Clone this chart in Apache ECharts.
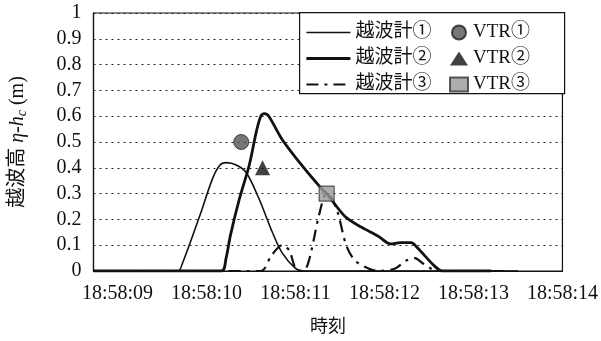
<!DOCTYPE html>
<html>
<head>
<meta charset="utf-8">
<script src="https://cdn.jsdelivr.net/npm/echarts@6/dist/echarts.min.js"></script>
<style>html,body{margin:0;padding:0;background:#fff}#c{width:601px;height:341px}</style>
</head>
<body>
<div id="c"></div>
<script>
// Time in seconds after 18:58:09
var tickLabels = ['18:58:09','18:58:10','18:58:11','18:58:12','18:58:13','18:58:14'];
var seriesNames = ['越波計①','越波計②','越波計③','VTR①','VTR②','VTR③'];

var gauge1 = [[-0.27,0],[0.3,0],[0.68,0],[0.73,0.03],[0.92,0.21],[1.07,0.36],[1.15,0.41],[1.22,0.42],[1.34,0.41],[1.45,0.38],[1.59,0.28],[1.74,0.15],[1.85,0.07],[2.0,0.01],[2.09,0],[3.0,0],[4.0,0],[4.5,0]];
var gauge2 = [[-0.27,0],[0.5,0],[1.17,0],[1.22,0.05],[1.27,0.14],[1.37,0.28],[1.48,0.41],[1.56,0.54],[1.61,0.60],[1.65,0.61],[1.70,0.60],[1.85,0.51],[2.07,0.41],[2.29,0.32],[2.35,0.30],[2.56,0.21],[2.74,0.17],[2.93,0.135],[3.07,0.105],[3.18,0.11],[3.30,0.11],[3.37,0.09],[3.56,0.02],[3.65,0],[4.2,0]];
var gauge3 = [[-0.27,0],[1.0,0],[1.61,0],[1.73,0.06],[1.85,0.10],[1.93,0.08],[2.0,0.01],[2.07,0],[2.12,0.01],[2.18,0.08],[2.26,0.21],[2.35,0.30],[2.41,0.28],[2.48,0.22],[2.57,0.10],[2.67,0.04],[2.82,0.01],[2.93,0],[3.12,0.01],[3.24,0.04],[3.34,0.05],[3.43,0.03],[3.52,0.01],[3.6,0],[4.4,0]];
var vtr1 = [[1.39,0.50]];
var vtr2 = [[1.63,0.40]];
var vtr3 = [[2.35,0.30]];

var lineW = [1.6, 2.8, 2.2];
var serif = "'Liberation Serif','Noto Sans CJK JP',serif";
var chart = echarts.init(document.getElementById('c'));
chart.setOption({
  animation: false,
  backgroundColor: '#fff',
  textStyle: {fontFamily: serif, color: '#111'},
  grid: {left: 93, right: 36, top: 13, bottom: 69, show: true, borderColor: '#111', borderWidth: 1.2},
  xAxis: {
    type: 'value', min: -0.27, max: 5,
    axisLine: {show: true, onZero: false, lineStyle: {color: '#111', width: 1.2}},
    axisTick: {show: false},
    splitLine: {show: false},
    axisLabel: {
      customValues: [0,1,2,3,4,5],
      fontFamily: serif, fontSize: 20, color: '#111', margin: 13,
      formatter: function (v) { var i = Math.round(v); return Math.abs(v - i) < 1e-6 && i >= 0 && i < tickLabels.length ? tickLabels[i] : ''; }
    },
    name: '時刻', nameLocation: 'middle', nameGap: 47,
    nameTextStyle: {fontFamily: serif, fontSize: 18, color: '#111'}
  },
  yAxis: {
    type: 'value', min: 0, max: 1, interval: 0.1,
    axisLine: {show: true, onZero: false, lineStyle: {color: '#111', width: 1.2}},
    axisTick: {show: false},
    splitLine: {show: true, lineStyle: {color: '#222', type: [2, 4], width: 1.2}},
    axisLabel: {fontFamily: serif, fontSize: 20, color: '#111', margin: 12},
    name: '{a|越波高 }{i|η-h}{s|c}{a| (m)}', nameLocation: 'middle', nameGap: 64, nameRotate: 90,
    nameTextStyle: {
      rich: {
        a: {fontFamily: serif, fontSize: 20, color: '#111'},
        i: {fontFamily: serif, fontSize: 20, fontStyle: 'italic', color: '#111'},
        s: {fontFamily: serif, fontSize: 14, fontStyle: 'italic', color: '#111', padding: [9, 0, 0, 0]}
      }
    }
  },
  graphic: [{
    type: 'rect', left: 299, top: 12, z: 10, silent: true,
    shape: {width: 265, height: 81},
    style: {fill: '#fff', stroke: '#111', lineWidth: 1.2}
  }],
  legend: [{
    data: [
      {name: seriesNames[0], lineStyle: {width: lineW[0]}},
      {name: seriesNames[1], lineStyle: {width: lineW[1]}},
      {name: seriesNames[2], lineStyle: {width: lineW[2], type: [12, 6, 3, 6]}}
    ],
    orient: 'vertical', left: 300, top: 18, z: 20,
    itemWidth: 44, itemHeight: 14, itemGap: 7,
    itemStyle: {opacity: 0},
    textStyle: {fontFamily: serif, fontSize: 19, color: '#111'}
  }, {
    data: seriesNames.slice(3), orient: 'vertical', left: 444, top: 18, z: 20,
    itemWidth: 18, itemHeight: 14, itemGap: 7,
    textStyle: {fontFamily: serif, fontSize: 19, color: '#111'}
  }],
  series: [
    {name: seriesNames[0], type: 'line', data: gauge1, symbol: 'none', smooth: 0.3, color: '#111', lineStyle: {color: '#111', width: lineW[0]}},
    {name: seriesNames[1], type: 'line', data: gauge2, symbol: 'none', smooth: 0.3, color: '#111', lineStyle: {color: '#111', width: lineW[1]}},
    {name: seriesNames[2], type: 'line', data: gauge3, symbol: 'none', smooth: 0.3, color: '#111', lineStyle: {color: '#111', width: lineW[2], type: [12, 6, 3, 6]}},
    {name: seriesNames[3], type: 'scatter', data: vtr1, symbol: 'circle', symbolSize: 15, z: 5, itemStyle: {color: '#555', borderColor: '#222', borderWidth: 1}},
    {name: seriesNames[4], type: 'scatter', data: vtr2, symbol: 'triangle', symbolSize: 15, z: 5, itemStyle: {color: '#111'}},
    {name: seriesNames[5], type: 'scatter', data: vtr3, symbol: 'rect', symbolSize: 15, z: 5, itemStyle: {color: '#999', borderColor: '#333', borderWidth: 1.2}}
  ]
});
</script>
</body>
</html>
